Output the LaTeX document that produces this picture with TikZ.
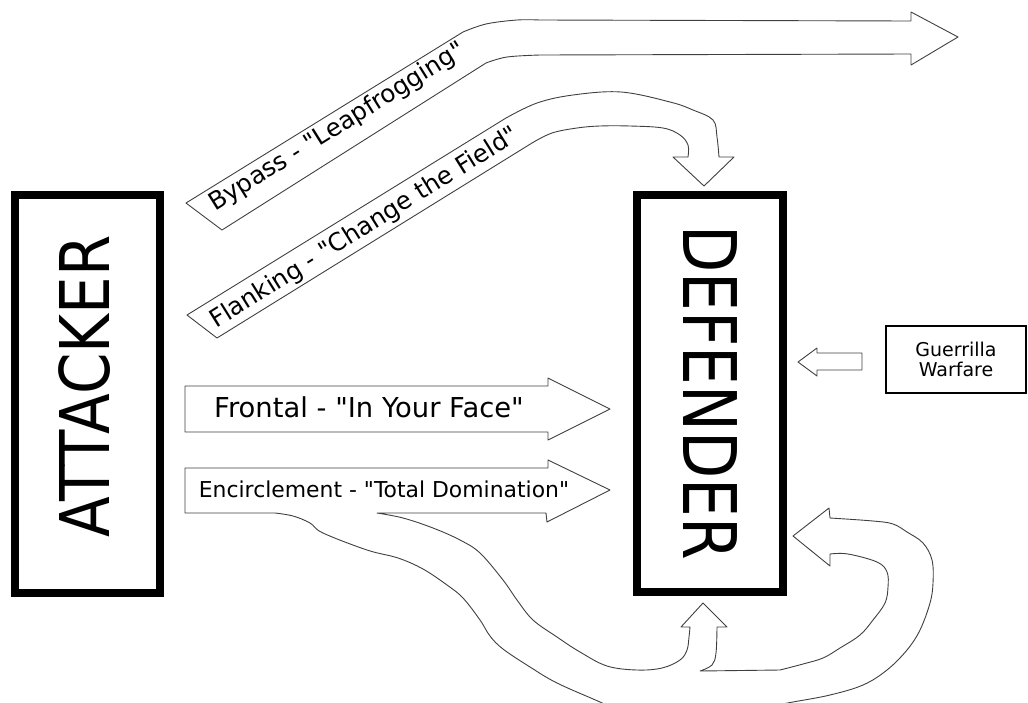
\documentclass[tikz,border=0pt]{standalone}
\usepackage{fontspec}
% straight quotes are printed as typed, so no TeX ligature mapping
\setmainfont{DejaVu Sans}[Ligatures=TeXOff]
\begin{document}
\begin{tikzpicture}[x=1pt,y=-1pt,
  bigbox/.style={draw=black,line width=8pt,inner sep=0pt},
  band/.style={draw=black!75,line width=0.9pt,fill=white,line join=round},
  lbl/.style={inner sep=0pt,text=black}]
\useasboundingbox (0,0) rectangle (1028,702);
\clip (0,0) rectangle (1028,702);

% the two sides
\node[bigbox,minimum width=145pt,minimum height=398pt] (attacker) at (87.5,394) {};
\node[lbl,rotate=90] (attackertext) at (85,386.5)
  {\scalebox{0.867}[1]{\fontsize{68.6}{70}\selectfont ATTACKER}};
\node[bigbox,minimum width=146pt,minimum height=397pt] (defender) at (710,393.5) {};
\node[lbl,rotate=-90] (defendertext) at (710,392.5)
  {\scalebox{0.83}[1]{\fontsize{74}{76}\selectfont DEFENDER}};

% bypass: over the defender and away
\draw[band] (186,203) -- (463,32)
  -- plot[smooth,tension=0.6] coordinates {(463,32) (486,24) (517,20) (540,20)}
  -- (911,21) -- (911,12) -- (958,37) -- (911,65) -- (911,54) -- (540,55)
  -- plot[smooth,tension=0.6] coordinates {(540,55) (507,57) (486,63)}
  -- (222,230) -- cycle;
\node[lbl,rotate=32,anchor=base west] (bypass) at (215,212)
  {\fontsize{24.6}{26}\selectfont Bypass - "Leapfrogging"};

% flanking: round and down onto the top
\draw[band] (187,315) -- (506,118)
  -- plot[smooth,tension=0.6] coordinates {(506,118) (537,103) (573,95) (621,92) (670,102) (693,110) (713,120) (717,137) (719,157)}
  -- (734,157) -- (704,186) -- (673,157) -- (688,157)
  -- plot[smooth,tension=0.6] coordinates {(688,157) (688,145) (680,135) (663,128) (630,126) (600,126) (577,128) (552,133) (532,143)}
  -- (217,338) -- cycle;
\node[lbl,rotate=32,anchor=base west] (flanking) at (216,329)
  {\fontsize{24.6}{26}\selectfont Flanking - "Change the Field"};

% frontal
\draw[band] (185,386) -- (548,386) -- (548,378) -- (610,409) -- (548,440) -- (548,432) -- (185,432) -- cycle;
\node[lbl,anchor=base] (frontal) at (369,417)
  {\fontsize{27.4}{29}\selectfont Frontal - "In Your Face"};

% encirclement, splitting below into two arms
\draw[band] (185,468) -- (548,468) -- (548,460) -- (610,490) -- (547,522) -- (546,513) -- (377,513)
  -- plot[smooth,tension=0.6] coordinates {(377,513) (403,518) (433,528) (460,540) (480,553) (503,580) (517,600) (533,620) (557,637) (580,652) (607,666) (637,670) (662,668) (680,660) (687,650) (689,637) (690,627)}
  -- (681,627) -- (703,603) -- (727,627) -- (717,627)
  -- plot[smooth,tension=0.6] coordinates {(717,627) (716,653) (712,665) (700,671)}
  -- (780,670)
  -- plot[smooth,tension=0.6] coordinates {(780,670) (803,664) (823,658) (840,648) (860,635) (873,620) (885,603) (888,587) (887,572) (877,562) (848,554) (830,554)}
  -- (830,566) -- (793,536) -- (829,508) -- (830,518)
  -- plot[smooth,tension=0.6] coordinates {(830,518) (873,521) (893,524) (907,532) (923,543) (932,560) (933,583) (930,603) (920,630) (907,650) (887,670) (863,685) (830,695) (793,702) (760,708)}
  -- (700,730) -- (640,720)
  -- plot[smooth,tension=0.6] coordinates {(640,720) (600,702) (557,683) (530,667) (503,649) (490,636) (480,620) (463,598) (447,585) (423,569) (398,558) (367,550) (323,533) (310,523) (293,516) (275,513)}
  -- (185,513) -- cycle;
\node[lbl,anchor=base] (encircle) at (384,497)
  {\fontsize{21.9}{23}\selectfont Encirclement - "Total Domination"};

% guerrilla warfare from the far side
\node[draw=black,line width=1.1pt,minimum width=140pt,minimum height=67pt,align=center,inner sep=0pt,
  font=\fontsize{19}{20}\selectfont] (guerrilla) at (956,359.5) {Guerrilla\\Warfare};
\draw[band] (862,353) -- (817,353) -- (817,348) -- (798,362) -- (817,376) -- (817,370) -- (862,370) -- cycle;
\end{tikzpicture}
\end{document}
